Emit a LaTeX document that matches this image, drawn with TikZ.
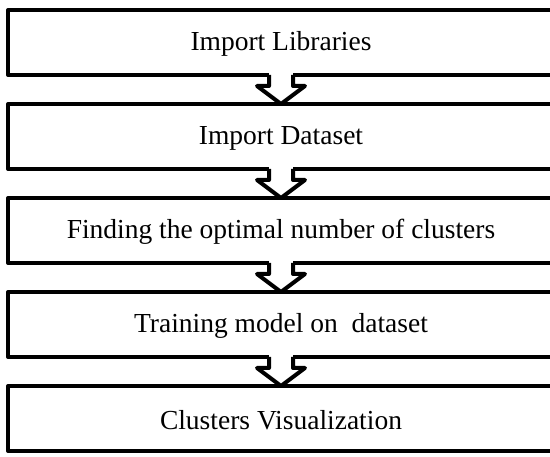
\documentclass[tikz,border=0pt]{standalone}
\usepackage{fontspec}
\setmainfont{Liberation Serif}
\usetikzlibrary{calc}
\tikzset{
  flowbox/.style={draw=black, line width=4pt, line join=round, fill=white,
    minimum width=560pt, minimum height=65pt, inner sep=0pt, outer sep=0pt, anchor=north west},
  lbl/.style={font=\fontsize{27.5}{33}\selectfont, inner sep=0pt, yshift=-1.5pt},
  arr/.style={draw=black, line width=4pt, line join=round}
}
\newcommand{\flowarrow}[2]{%
  \fill[white] ($(#1.south -| ax)+(-12,-3)$) rectangle ($(#1.south -| ax)+(12,3)$);
  \draw[arr] ($(#1.south -| ax)+(-12,0)$) -- ++(0,11) -- ++(-12,0)
    -- (#2.north -| ax) -- ($(#1.south -| ax)+(24,11)$) -- ++(-12,0) -- ++(0,-11);
}
\begin{document}
\begin{tikzpicture}[x=1pt,y=-1pt]
\useasboundingbox (0,0) rectangle (550,457);
\clip (0,0) rectangle (550,457);
\coordinate (ax) at (281,0);
\node[flowbox] (b1) at (8,10) {};
\node[flowbox] (b2) at (8,104) {};
\node[flowbox] (b3) at (8,198) {};
\node[flowbox] (b4) at (8,292) {};
\node[flowbox] (b5) at (8,386) {};
\node[lbl] (t1) at (b1.center -| ax) {Import Libraries};
\node[lbl] (t2) at (b2.center -| ax) {Import Dataset};
\node[lbl] (t3) at (b3.center -| ax) {Finding the optimal number of clusters};
\node[lbl] (t4) at (b4.center -| ax) {Training model on~ dataset};
\node[lbl] (t5) at (b5.center -| ax) {Clusters Visualization};
\flowarrow{b1}{b2}
\flowarrow{b2}{b3}
\flowarrow{b3}{b4}
\flowarrow{b4}{b5}
\end{tikzpicture}
\end{document}
